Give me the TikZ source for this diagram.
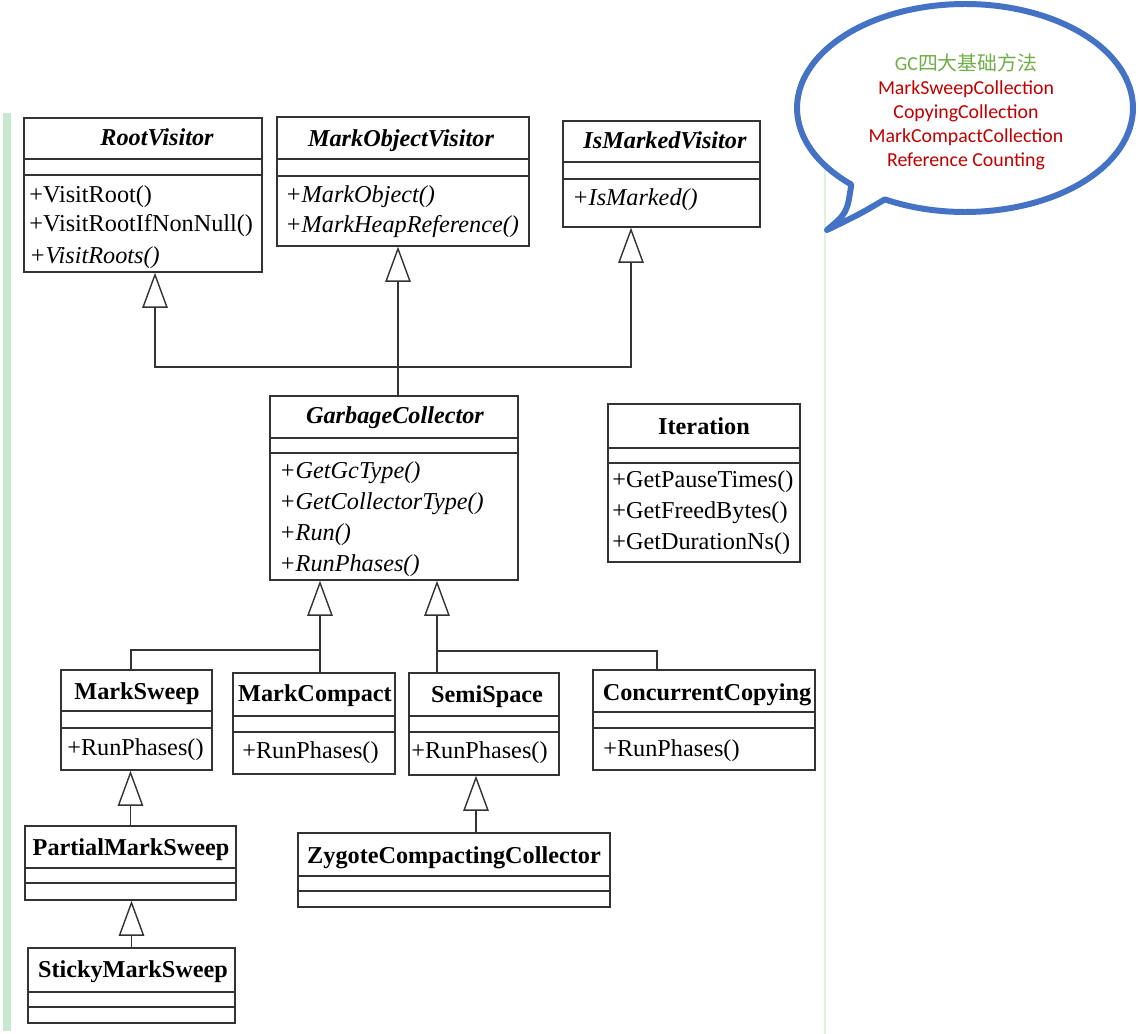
\documentclass[tikz,border=0pt]{standalone}
\usepackage{fontspec}
\setmainfont{Liberation Serif}
\newfontfamily\calloutfont{Carlito}
\newfontfamily\cjk{Noto Sans CJK SC}
\usetikzlibrary{arrows.meta,fit}

\definecolor{barGreen}{RGB}{200,232,208}
\definecolor{lineGreen}{RGB}{220,241,224}
\definecolor{bubbleBlue}{RGB}{68,114,196}
\definecolor{noteGreen}{RGB}{112,173,71}
\definecolor{noteRed}{RGB}{192,0,0}

\tikzset{
  classbox/.style={draw=black!80, line width=0.8pt, inner sep=0pt},
  classrule/.style={draw=black!80, line width=0.8pt},
  classname/.style={font=\fontsize{13.8}{16}\selectfont\bfseries, inner sep=0pt, anchor=base},
  absname/.style={classname, font=\fontsize{13.8}{16}\selectfont\bfseries\itshape},
  member/.style={font=\fontsize{13.8}{16}\selectfont, inner sep=0pt, anchor=base west},
  absmember/.style={member, font=\fontsize{13.8}{16}\selectfont\itshape},
  linkline/.style={draw=black!80, line width=0.8pt},
  inherit/.style={linkline, -{Triangle[open, length=20pt, width=14.5pt, fill=white]}},
  bubble/.style={draw=bubbleBlue, line width=3.4pt, fill=white, line join=round},
  bubbletext/.style={font=\calloutfont\fontsize{11.3}{13.6}\selectfont, text=noteRed, align=center, inner sep=0pt}
}

% frame of a class: name, left, top, right, bottom, first rule, second rule
\newcommand{\umlframe}[7]{%
  \node[classbox, fit={(#2,#3) (#4,#5)}] (#1) {};
  \draw[classrule] (#2,#6) -- (#4,#6);
  \draw[classrule] (#2,#7) -- (#4,#7);
}

\begin{document}
\begin{tikzpicture}[x=0.02cm, y=-0.02cm]
    \useasboundingbox (0,0) rectangle (1140,1034);

    % margin marks of the page
    \fill[barGreen] (3,113) rectangle (11,1031);
    \draw[lineGreen, line width=0.6pt] (825,113) -- (825,1034);

    % visitors
    \umlframe{rootv}{24}{118}{262}{272}{159}{175}
    \node[absname] (rootv-name) at (157,146) {RootVisitor};
    \node[member] (rootv-m1) at (29,202) {+VisitRoot()};
    \node[member] (rootv-m2) at (29,232) {+VisitRootIfNonNull()};
    \node[absmember] (rootv-m3) at (29,263) {+VisitRoots()};

    \umlframe{mov}{277}{117}{529}{246}{159}{176}
    \node[absname] (mov-name) at (401,147) {MarkObjectVisitor};
    \node[absmember] (mov-m1) at (285,202) {+MarkObject()};
    \node[absmember] (mov-m2) at (285,233) {+MarkHeapReference()};

    \umlframe{ism}{563}{121}{760}{227}{162}{179}
    \node[absname] (ism-name) at (665,149) {IsMarkedVisitor};
    \node[absmember] (ism-m1) at (572,206) {+IsMarked()};

    % collector base and iteration
    \umlframe{gc}{270}{396}{518}{580}{438}{453}
    \node[absname] (gc-name) at (395,423) {GarbageCollector};
    \node[absmember] (gc-m1) at (279,478) {+GetGcType()};
    \node[absmember] (gc-m2) at (279,509) {+GetCollectorType()};
    \node[absmember] (gc-m3) at (279,540) {+Run()};
    \node[absmember] (gc-m4) at (279,571) {+RunPhases()};

    \umlframe{iter}{608}{404}{800}{562}{448}{463}
    \node[classname] (iter-name) at (704,434) {Iteration};
    \node[member] (iter-m1) at (612,487) {+GetPauseTimes()};
    \node[member] (iter-m2) at (612,518) {+GetFreedBytes()};
    \node[member] (iter-m3) at (612,549) {+GetDurationNs()};

    % collectors
    \umlframe{msweep}{61}{670}{212}{770}{711}{728}
    \node[classname] (msweep-name) at (137,699) {MarkSweep};
    \node[member] (msweep-m1) at (67,755) {+RunPhases()};

    \umlframe{mcomp}{233}{673}{395}{774}{716}{732}
    \node[classname] (mcomp-name) at (315,701) {MarkCompact};
    \node[member] (mcomp-m1) at (242,758) {+RunPhases()};

    \umlframe{semi}{409}{673}{559}{775}{716}{732}
    \node[classname] (semi-name) at (487,702) {SemiSpace};
    \node[member] (semi-m1) at (411,758) {+RunPhases()};

    \umlframe{ccopy}{593}{670}{815}{770}{712}{728}
    \node[classname] (ccopy-name) at (707,700) {ConcurrentCopying};
    \node[member] (ccopy-m1) at (603,756) {+RunPhases()};

    \umlframe{pms}{25}{826}{236}{900}{868}{883}
    \node[classname] (pms-name) at (131,855) {PartialMarkSweep};

    \umlframe{zcc}{298}{833}{610}{907}{876}{891}
    \node[classname] (zcc-name) at (454,863) {ZygoteCompactingCollector};

    \umlframe{sms}{28}{948}{235}{1023}{992}{1007}
    \node[classname] (sms-name) at (133,977) {StickyMarkSweep};

    % inheritance
    \coordinate (upjoin) at (398,367);
    \draw[inherit] (upjoin |- gc.north) -- (upjoin |- mov.south);
    \draw[inherit] (upjoin) -| ([xshift=0.24cm]rootv.south);
    \draw[inherit] (upjoin) -| ([xshift=-0.61cm]ism.south);

    \coordinate (leftjoin) at (320,650);
    \draw[inherit] (leftjoin |- mcomp.north) -- (leftjoin |- gc.south);
    \draw[linkline] (leftjoin) -| ([xshift=-0.11cm]msweep.north);
    \coordinate (rightjoin) at (437,651);
    \draw[inherit] (rightjoin |- semi.north) -- (rightjoin |- gc.south);
    \draw[linkline] (rightjoin) -| ([xshift=-0.94cm]ccopy.north);

    \draw[inherit] (pms.north) -- (pms.north |- msweep.south);
    \draw[inherit] (sms.north) -- (sms.north |- pms.south);
    \coordinate (zccin) at ([xshift=0.44cm]zcc.north);
    \draw[inherit] (zccin) -- (zccin |- semi.south);

    % callout
    \begin{scope}[shift={(965,108)}, x=0.02cm, y=0.02cm]
        \draw[bubble] (241.5:3.36cm and 2.08cm)
            arc[start angle=241.5, end angle=587.4, x radius=3.36cm, y radius=2.08cm]
            .. controls (-118,-105) .. (-138,-122)
            .. controls (-105,-106) .. cycle;
    \end{scope}
    \node[bubbletext] (gcnote) at (966,112) {{\color{noteGreen}GC\cjk 四大基础方法}\\
        MarkSweepCollection\\ CopyingCollection\\ MarkCompactCollection\\ Reference Counting};

\end{tikzpicture}
\end{document}
